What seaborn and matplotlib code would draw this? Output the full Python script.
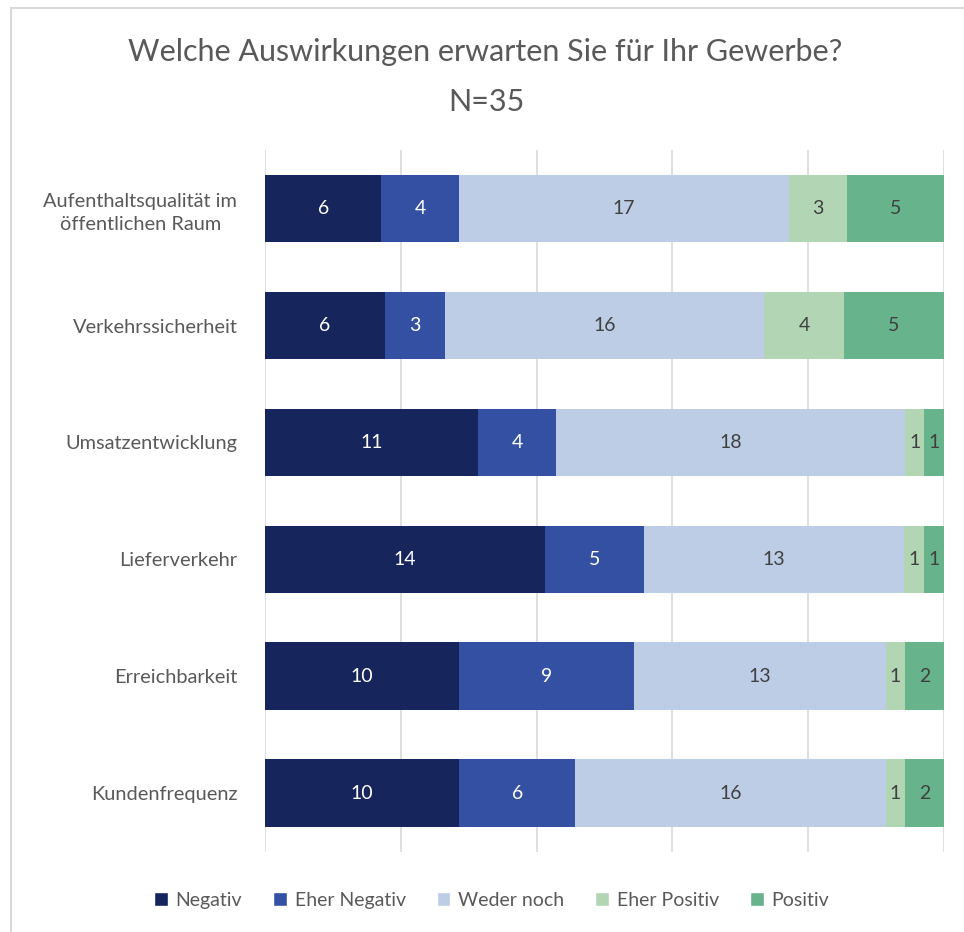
import matplotlib.pyplot as plt
import numpy as np
import pandas as pd
import seaborn as sns
from matplotlib.lines import Line2D
from matplotlib.patches import Patch

categories = ["Aufenthaltsqualität im\nöffentlichen Raum", "Verkehrssicherheit", "Umsatzentwicklung",
              "Lieferverkehr", "Erreichbarkeit", "Kundenfrequenz"]
answers = ["Negativ", "Eher Negativ", "Weder noch", "Eher Positiv", "Positiv"]
negativ = [6, 6, 11, 14, 10, 10]
eher_negativ = [4, 3, 4, 5, 9, 6]
weder_noch = [17, 16, 18, 13, 13, 16]
eher_positiv = [3, 4, 1, 1, 1, 1]
positiv = [5, 5, 1, 1, 2, 2]

colors = ["#16255b", "#3450a3", "#bdcde6", "#b2d5b4", "#66b38c"]
text_colors = ["white", "white", "#404040", "#404040", "#404040"]

counts = pd.DataFrame(np.array([negativ, eher_negativ, weder_noch, eher_positiv, positiv]).T,
                      index=categories, columns=answers)
share = counts.div(counts.sum(axis=1), axis=0) * 100
cum = share.cumsum(axis=1)

sns.set_theme(style="white")
plt.rcParams["font.family"] = ["Lato", "DejaVu Sans"]

fig = plt.figure(figsize=(9.64, 9.32), dpi=100)
ax = fig.add_axes([0.275, 0.086, 0.704, 0.753])

# draw stacked bars back to front
for i in reversed(range(len(answers))):
    df = pd.DataFrame({"cat": categories, "val": cum[answers[i]].values})
    sns.barplot(data=df, x="val", y="cat", color=colors[i], orient="h", width=0.58,
                saturation=1, linewidth=0, ax=ax, zorder=2)

for i, a in enumerate(answers):
    centers = cum[a] - share[a] / 2
    for j, c in enumerate(categories):
        ax.text(centers.iloc[j], j, str(counts[a].iloc[j]), ha="center", va="center",
                fontsize=14, color=text_colors[i], zorder=3)

ax.set_xlim(0, 100)
ax.set_ylim(5.5, -0.5)
ax.set_xticks([0, 20, 40, 60, 80, 100])
ax.set_xticklabels([])
ax.xaxis.grid(True, color="#d9d9d9", linewidth=1.2, zorder=0)
ax.set_axisbelow(True)
ax.set_xlabel("")
ax.set_ylabel("")
ax.tick_params(axis="y", length=0, pad=20, labelsize=14.4, labelcolor="#595959")
ax.tick_params(axis="x", length=0)
for lab in ax.get_yticklabels():
    lab.set_multialignment("center")
    lab.set_linespacing(1.45)
sns.despine(ax=ax, left=True, bottom=True)

fig.text(0.503, 0.944, "Welche Auswirkungen erwarten Sie für Ihr Gewerbe?", ha="center", va="center",
         fontsize=22, color="#595959")
fig.text(0.505, 0.891, "N=35", ha="center", va="center", fontsize=22, color="#595959")

handles = [Patch(facecolor=c, label=a) for c, a in zip(colors, answers)]
fig.legend(handles=handles, loc="center", bbox_to_anchor=(0.51, 0.034), ncol=5, frameon=False,
           fontsize=14, labelcolor="#595959", handlelength=0.7, handleheight=0.7,
           handletextpad=0.4, columnspacing=1.6)

# outer chart border
fig.add_artist(Line2D([0.011, 1.0], [0.991, 0.991], color="#d9d9d9", linewidth=1.5))
fig.add_artist(Line2D([0.011, 0.011], [0.0, 0.991], color="#d9d9d9", linewidth=1.5))

fig.savefig("out.png", dpi=100)
